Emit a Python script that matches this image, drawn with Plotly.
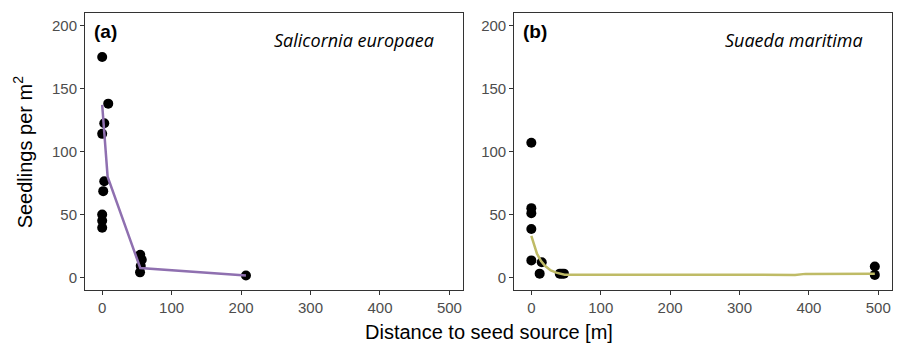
import plotly.graph_objects as go

# Panel (a) Salicornia europaea
a_dist = [0, 8.7, 3, 0, 3, 1.5, 0, 0, 0, 54.8, 57, 55.5, 54.5, 207]
a_seed = [175, 138, 122.5, 114, 76.4, 68.5, 50, 45, 39.5, 18, 14, 9, 4, 1.5]
a_fit_x = [0, 4.3, 7.8, 54.8, 207]
a_fit_y = [137, 109, 80, 7.5, 1.5]

# Panel (b) Suaeda maritima
b_dist = [0, 0, 0, 0, 0, 12, 15, 41, 44, 47, 495, 495]
b_seed = [107, 55, 51, 38.5, 13.5, 3, 12, 3, 3, 3, 8.7, 2]
b_fit_x = [0, 4, 8, 14, 20, 28, 36, 48, 160, 380, 395, 495]
b_fit_y = [33, 25, 19, 13, 9, 5.5, 3.8, 2.2, 2.0, 2.0, 2.8, 3.0]

x_ticks = [0, 100, 200, 300, 400, 500]
y_ticks = [0, 50, 100, 150, 200]
labels = ["(a)", "(b)"]
species = ["Salicornia europaea", "Suaeda maritima"]
x_title = "Distance to seed source [m]"
y_title = "Seedlings per m<sup>2</sup>"

purple = "#8F70B0"
olive = "#BFBB66"

fig = go.Figure()
fig.add_trace(go.Scatter(x=a_dist, y=a_seed, mode="markers", xaxis="x", yaxis="y",
                         marker=dict(color="black", size=10), showlegend=False))
fig.add_trace(go.Scatter(x=a_fit_x, y=a_fit_y, mode="lines", xaxis="x", yaxis="y",
                         line=dict(color=purple, width=2.5), showlegend=False))
fig.add_trace(go.Scatter(x=b_dist, y=b_seed, mode="markers", xaxis="x2", yaxis="y2",
                         marker=dict(color="black", size=10), showlegend=False))
fig.add_trace(go.Scatter(x=b_fit_x, y=b_fit_y, mode="lines", xaxis="x2", yaxis="y2",
                         line=dict(color=olive, width=2.5), showlegend=False))

axis_common = dict(showline=True, mirror=True, linecolor="#333333", linewidth=1,
                   ticks="outside", ticklen=4, tickcolor="#333333", tickwidth=1,
                   showgrid=False, zeroline=False,
                   tickfont=dict(family="Liberation Sans, Arial", size=15, color="#4D4D4D"))

xr = [-24.75, 519.75]
yr = [-10, 210]
# page has an 8px body margin, so the figure is 8px smaller and shifted
fig.update_layout(
    width=896, height=338,
    margin=dict(l=77, r=12, t=5, b=56),
    plot_bgcolor="white", paper_bgcolor="white",
    xaxis=dict(domain=[0, 0.4686], range=xr, tickvals=x_ticks, anchor="y", **axis_common),
    yaxis=dict(domain=[0, 1], range=yr, tickvals=y_ticks, anchor="x", **axis_common),
    xaxis2=dict(domain=[0.5318, 1], range=xr, tickvals=x_ticks, anchor="y2", **axis_common),
    yaxis2=dict(domain=[0, 1], range=yr, tickvals=y_ticks, anchor="x2", **axis_common),
)

for i, (xa, ya) in enumerate([("x", "y"), ("x2", "y2")]):
    fig.add_annotation(text="<b>" + labels[i] + "</b>", xref=xa + " domain", yref=ya + " domain",
                       x=0.018, y=0.934, xanchor="left", yanchor="middle", showarrow=False,
                       font=dict(family="Liberation Sans, Arial", size=19, color="black"))
    fig.add_annotation(text="<i>" + species[i] + "</i>", xref=xa + " domain", yref=ya + " domain",
                       x=1, y=0.903, xanchor="right", yanchor="middle", xshift=-27, showarrow=False,
                       font=dict(family="Open Sans", size=18, color="black"))

fig.add_annotation(text=x_title, xref="paper", yref="paper", x=0.5, y=-0.2,
                   xanchor="center", yanchor="bottom", showarrow=False,
                   font=dict(family="Liberation Sans, Arial", size=20, color="black"))
fig.add_annotation(text=y_title, xref="paper", yref="paper", x=-0.077, y=0.5,
                   xanchor="center", yanchor="middle", textangle=-90, showarrow=False,
                   font=dict(family="Liberation Sans, Arial", size=20, color="black"))

fig.write_html("out.html")
